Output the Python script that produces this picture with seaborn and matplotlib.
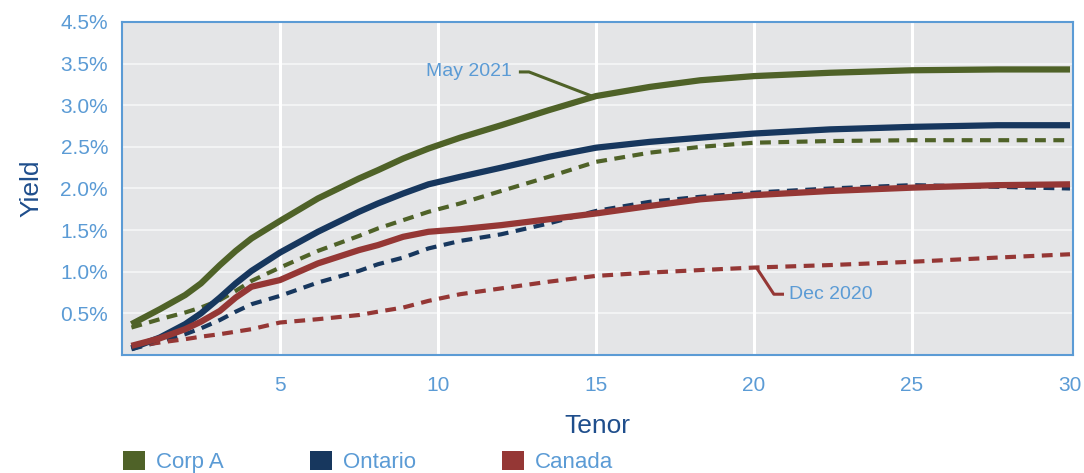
import matplotlib
matplotlib.use("Agg")
import matplotlib.pyplot as plt
import matplotlib.patches as mpatches
import seaborn as sns
import pandas as pd

# Tenor grid (years) shared by every curve
tenor = [0.3, 1.2, 2.0, 2.5, 3.1, 3.6, 4.1, 5.0, 6.2, 7.5, 8.1, 8.9, 9.7, 10.7,
         12.0, 13.5, 15.0, 16.7, 18.3, 20.0, 22.4, 25.0, 27.7, 30.0]

# Yields (%), May 2021
corp_a_may = [0.37, 0.55, 0.72, 0.86, 1.08, 1.25, 1.40, 1.61, 1.88, 2.12, 2.22, 2.36,
              2.48, 2.61, 2.76, 2.94, 3.11, 3.22, 3.30, 3.35, 3.39, 3.42, 3.43, 3.43]
ontario_may = [0.08, 0.21, 0.37, 0.50, 0.69, 0.86, 1.01, 1.23, 1.48, 1.72, 1.82, 1.94,
               2.05, 2.14, 2.25, 2.38, 2.49, 2.56, 2.61, 2.66, 2.71, 2.74, 2.76, 2.76]
canada_may = [0.11, 0.20, 0.31, 0.40, 0.53, 0.69, 0.82, 0.90, 1.10, 1.26, 1.32, 1.42,
              1.48, 1.51, 1.56, 1.63, 1.70, 1.79, 1.87, 1.92, 1.97, 2.01, 2.04, 2.05]

# Yields (%), Dec 2020
corp_a_dec = [0.33, 0.43, 0.51, 0.57, 0.66, 0.77, 0.89, 1.05, 1.25, 1.43, 1.52, 1.62,
              1.72, 1.82, 1.97, 2.14, 2.32, 2.43, 2.50, 2.55, 2.57, 2.58, 2.58, 2.58]
ontario_dec = [0.07, 0.16, 0.25, 0.32, 0.42, 0.52, 0.61, 0.71, 0.87, 1.01, 1.09, 1.17,
               1.28, 1.37, 1.45, 1.58, 1.73, 1.84, 1.90, 1.95, 2.00, 2.04, 2.02, 2.00]
canada_dec = [0.10, 0.15, 0.19, 0.22, 0.25, 0.28, 0.31, 0.39, 0.43, 0.48, 0.52, 0.57,
              0.65, 0.73, 0.80, 0.88, 0.95, 0.99, 1.02, 1.05, 1.08, 1.12, 1.17, 1.21]

issuers = ["Corp A", "Ontario", "Canada"]
colors = {"Corp A": "#4f6228", "Ontario": "#17375e", "Canada": "#953735"}

y_ticks = [0.5, 1.0, 1.5, 2.0, 2.5, 3.0, 3.5, 4.0]
y_tick_labels = ["0.5%", "1.0%", "1.5%", "2.0%", "2.5%", "3.0%", "3.5%", "4.5%"]
x_ticks = [5, 10, 15, 20, 25, 30]

rows = []
for issuer, may, dec in zip(issuers, [corp_a_may, ontario_may, canada_may],
                            [corp_a_dec, ontario_dec, canada_dec]):
    for t, v in zip(tenor, may):
        rows.append({"Tenor": t, "Yield": v, "Issuer": issuer, "Date": "May 2021"})
    for t, v in zip(tenor, dec):
        rows.append({"Tenor": t, "Yield": v, "Issuer": issuer, "Date": "Dec 2020"})
df = pd.DataFrame(rows)

sns.set_theme(style="white")
plt.rcParams["font.family"] = ["Liberation Sans", "DejaVu Sans"]

tick_blue = "#5b9bd5"
label_blue = "#1f4e8c"

fig = plt.figure(figsize=(10.84, 4.73), dpi=100)
ax = fig.add_axes([0.1125, 0.2495, 0.8775, 0.704])
ax.set_facecolor("#e4e5e7")

for issuer in issuers:
    sub = df[(df["Issuer"] == issuer) & (df["Date"] == "Dec 2020")]
    sns.lineplot(data=sub, x="Tenor", y="Yield", ax=ax, color=colors[issuer],
                 linewidth=3.0, linestyle=(0, (2.6, 1.8)), zorder=3)
for issuer in issuers:
    sub = df[(df["Issuer"] == issuer) & (df["Date"] == "May 2021")]
    sns.lineplot(data=sub, x="Tenor", y="Yield", ax=ax, color=colors[issuer],
                 linewidth=4.5, solid_capstyle="butt", solid_joinstyle="round", zorder=4)

ax.set_xlim(0, 30.1)
ax.set_ylim(0, 4.0)
ax.set_xticks(x_ticks)
ax.set_xticklabels([str(t) for t in x_ticks])
ax.set_yticks(y_ticks)
ax.set_yticklabels(y_tick_labels)
ax.tick_params(axis="both", colors=tick_blue, labelsize=15, length=0)
ax.tick_params(axis="y", pad=10)
ax.tick_params(axis="x", pad=15)

# Grid: faint horizontal, bold vertical
for y in y_ticks[:-1]:
    ax.axhline(y, color="#f2f3f4", linewidth=1.5, zorder=1)
for x in x_ticks[:-1]:
    ax.axvline(x, color="white", linewidth=2.2, zorder=1)

for sp in ax.spines.values():
    sp.set_color(tick_blue)
    sp.set_linewidth(1.5)

ax.set_xlabel("Tenor", color=label_blue, fontsize=19, labelpad=14)
ax.set_ylabel("Yield", color=label_blue, fontsize=19, labelpad=12)

# Callouts for the two curve dates
ax.plot([12.56, 12.88, 14.87], [3.40, 3.40, 3.11], color=colors["Corp A"], linewidth=2.2,
        zorder=5, solid_capstyle="butt")
ax.text(12.34, 3.40, "May 2021", color=tick_blue, fontsize=14, ha="right", va="center",
        zorder=6)
ax.plot([20.06, 20.63, 20.95], [1.06, 0.73, 0.73], color=colors["Canada"], linewidth=2.2,
        zorder=5, solid_capstyle="butt")
ax.text(21.1, 0.73, "Dec 2020", color=tick_blue, fontsize=14, ha="left", va="center",
        zorder=6)

handles = [mpatches.Patch(facecolor=colors[i], edgecolor="none", label=i) for i in issuers]
leg = fig.legend(handles=handles, loc="center left", bbox_to_anchor=(0.095, 0.023),
                 ncol=3, frameon=False, fontsize=16, handlelength=1.0, handleheight=0.9,
                 columnspacing=3.85, handletextpad=0.5)
for txt in leg.get_texts():
    txt.set_color(tick_blue)

fig.savefig("out.png", dpi=100)
